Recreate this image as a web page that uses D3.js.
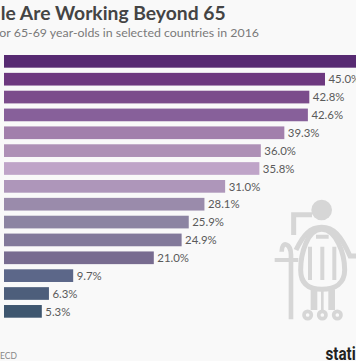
<!DOCTYPE html>
<html>
<head>
<meta charset="utf-8">
<script src="https://cdn.jsdelivr.net/npm/d3@7"></script>
<style>
  html, body { margin: 0; padding: 0; background: #f9f9f9; overflow: hidden; }
  text { font-family: Lato, sans-serif; }
</style>
</head>
<body>
<script>
const width = 356, height = 361;

// values, first bar runs past the crop so it is an estimate
const rows = d3.range(15);
const values = [50.3, 45.0, 42.8, 42.6, 39.3, 36.0, 35.8, 31.0, 28.1, 25.9, 24.9, 21.0, 9.7, 6.3, 5.3];
const valueLabels = [null, "45.0%", "42.8%", "42.6%", "39.3%", "36.0%", "35.8%", "31.0%", "28.1%", "25.9%", "24.9%", "21.0%", "9.7%", "6.3%", "5.3%"];
const barColors = ["#572a72", "#6d387f", "#7b4c8b", "#87609a", "#a27fac", "#ae90b6", "#bfa4c8", "#ae96ba", "#9a8bab", "#8c84a2", "#82799a", "#786c90", "#5c6789", "#4d5e7b", "#3e566f"];

const svg = d3.select("body")
  .append("svg")
  .attr("width", width)
  .attr("height", height)
  .style("display", "block");

const x = d3.scaleLinear().domain([0, 45]).range([4, 325]);
const y = d3.scaleBand().domain(rows).range([55, 317.7]).paddingInner(0.29);

// Pictogram behind the bars
const picto = svg.append("g")
  .attr("transform", "translate(270,190) scale(0.3333)")
  .attr("fill", "none")
  .attr("stroke", "#d6d6d6")
  .attr("stroke-width", 15);
picto.append("circle").attr("cx", 155).attr("cy", 60).attr("r", 31)
  .attr("fill", "#d6d6d6").attr("stroke", "none");
picto.append("path").attr("d", "M126,74H71V135");
picto.append("path").attr("d", "M78,180C100,135 120,112 155,112C190,112 212,135 240,198H262");
picto.append("path").attr("d", "M155,118C112,118 92,190 92,240C92,280 115,298 155,298C195,298 224,280 224,240C224,190 198,118 155,118Z");
picto.append("path").attr("d", "M120,170V270M157,170V270M193,170V270M138,140H176").attr("stroke-width", 12);
picto.append("path").attr("d", "M14,210H85").attr("stroke-width", 12);
picto.append("path").attr("d", "M63,388V195C63,160 35,150 35,185").attr("stroke-width", 14);
picto.append("path").attr("d", "M132,298V360M185,298V360").attr("stroke-width", 20);
picto.append("path").attr("d", "M157,300V360").attr("stroke-width", 8);
picto.selectAll(".wheel")
  .data([113, 157, 202])
  .join("circle")
  .attr("class", "wheel")
  .attr("cx", d => d)
  .attr("cy", 375)
  .attr("r", 11)
  .attr("stroke-width", 11);

// Bars
svg.append("g")
  .selectAll("rect")
  .data(rows)
  .join("rect")
  .attr("x", x(0))
  .attr("y", d => y(d))
  .attr("width", d => x(values[d]) - x(0))
  .attr("height", y.bandwidth())
  .attr("fill", d => barColors[d]);

// Value labels
svg.append("g")
  .selectAll("text")
  .data(rows.filter(d => valueLabels[d]))
  .join("text")
  .attr("x", d => x(values[d]) + 3.5)
  .attr("y", d => y(d) + y.bandwidth() / 2 + 4.2)
  .attr("font-size", 11.4)
  .attr("fill", "#5a5a5a")
  .text(d => valueLabels[d]);

// Title and subtitle, cut off at the left like the reference
svg.append("text")
  .attr("x", 225.7)
  .attr("y", 20)
  .attr("text-anchor", "end")
  .attr("font-size", 19.3)
  .attr("font-weight", "bold")
  .attr("fill", "#444")
  .text("le Are Working Beyond 65");

svg.append("text")
  .attr("x", 259)
  .attr("y", 37)
  .attr("text-anchor", "end")
  .attr("font-size", 12.35)
  .attr("fill", "#7a7a7a")
  .text("or 65-69 year-olds in selected countries in 2016");

svg.append("text")
  .attr("x", 0)
  .attr("y", 359)
  .attr("font-size", 8.5)
  .attr("fill", "#888")
  .text("ECD");

svg.append("text")
  .attr("transform", "translate(325.5,360) scale(0.8,1)")
  .style("font-family", "'Liberation Sans Narrow', Roboto, sans-serif")
  .attr("font-size", 19)
  .attr("font-weight", "bold")
  .attr("fill", "#222")
  .text("stati");
</script>
</body>
</html>
